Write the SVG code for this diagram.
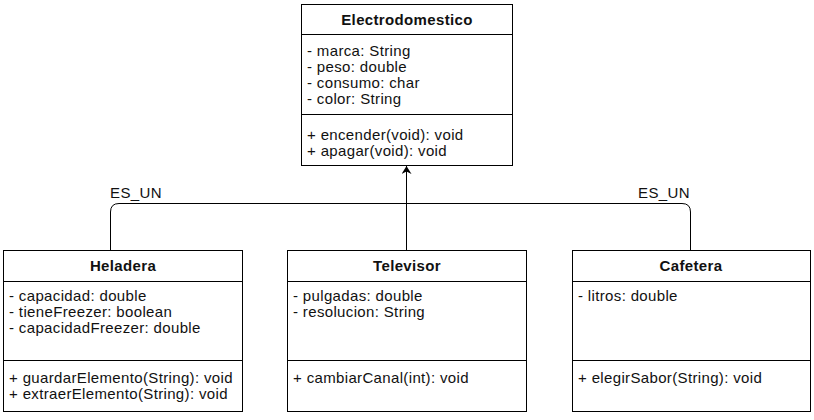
<svg xmlns="http://www.w3.org/2000/svg" width="814" height="420" viewBox="0 0 814 420">
<style>
.box{fill:#fff;stroke:#000;stroke-width:1}
.sep{stroke:#000;stroke-width:1}
.t{font-family:"Liberation Sans",Arial,sans-serif;font-size:15px;letter-spacing:0.35px;fill:#111}
.h{font-family:"Liberation Sans",Arial,sans-serif;font-size:15px;letter-spacing:0.35px;font-weight:bold;fill:#111;text-anchor:middle}
.c{fill:none;stroke:#000;stroke-width:1}
</style>
<defs>
<marker id="arr" viewBox="0 0 8 10" refX="8" refY="5" markerWidth="8" markerHeight="10" markerUnits="userSpaceOnUse" orient="auto">
<path d="M0,0 L8,5 L0,10 L2.5,5 Z" fill="#000"/>
</marker>
</defs>
<rect width="814" height="420" fill="#fff"/>
<g id="connectors">
<path class="c" d="M110.5,250 V212 Q110.5,203.5 119,203.5 H682 Q690.5,203.5 690.5,212 V250"/>
<path class="c" d="M406.5,250 V166" marker-end="url(#arr)"/>
<text class="t" x="136" y="198" text-anchor="middle">ES_UN</text>
<text class="t" x="664" y="198" text-anchor="middle">ES_UN</text>
</g>
<g id="Electrodomestico">
<rect class="box" x="301.5" y="4.5" width="211" height="161"/>
<line class="sep" x1="301.5" y1="34.5" x2="512.5" y2="34.5"/>
<line class="sep" x1="301.5" y1="114.5" x2="512.5" y2="114.5"/>
<text class="h" x="407" y="25">Electrodomestico</text>
<text class="t" x="307" y="56">- marca: String</text>
<text class="t" x="307" y="72">- peso: double</text>
<text class="t" x="307" y="88">- consumo: char</text>
<text class="t" x="307" y="104">- color: String</text>
<text class="t" x="307" y="140">+ encender(void): void</text>
<text class="t" x="307" y="156">+ apagar(void): void</text>
</g>
<g id="Heladera">
<rect class="box" x="3.5" y="250.5" width="239" height="161"/>
<line class="sep" x1="3.5" y1="281.5" x2="242.5" y2="281.5"/>
<line class="sep" x1="3.5" y1="360.5" x2="242.5" y2="360.5"/>
<text class="h" x="123" y="271">Heladera</text>
<text class="t" x="9" y="301">- capacidad: double</text>
<text class="t" x="9" y="317">- tieneFreezer: boolean</text>
<text class="t" x="9" y="333">- capacidadFreezer: double</text>
<text class="t" x="9" y="383">+ guardarElemento(String): void</text>
<text class="t" x="9" y="399">+ extraerElemento(String): void</text>
</g>
<g id="Televisor">
<rect class="box" x="287.5" y="250.5" width="239" height="161"/>
<line class="sep" x1="287.5" y1="281.5" x2="526.5" y2="281.5"/>
<line class="sep" x1="287.5" y1="360.5" x2="526.5" y2="360.5"/>
<text class="h" x="407" y="271">Televisor</text>
<text class="t" x="293" y="301">- pulgadas: double</text>
<text class="t" x="293" y="317">- resolucion: String</text>
<text class="t" x="293" y="383">+ cambiarCanal(int): void</text>
</g>
<g id="Cafetera">
<rect class="box" x="572.5" y="250.5" width="238" height="161"/>
<line class="sep" x1="572.5" y1="281.5" x2="810.5" y2="281.5"/>
<line class="sep" x1="572.5" y1="360.5" x2="810.5" y2="360.5"/>
<text class="h" x="691" y="271">Cafetera</text>
<text class="t" x="578" y="301">- litros: double</text>
<text class="t" x="578" y="383">+ elegirSabor(String): void</text>
</g>
</svg>
